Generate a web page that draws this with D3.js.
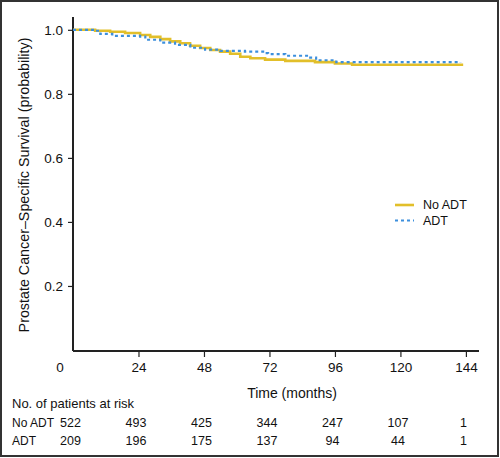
<!DOCTYPE html>
<html><head><meta charset="utf-8">
<script src="https://cdn.jsdelivr.net/npm/d3@7/dist/d3.min.js"></script>
<style>body{margin:0;background:#fff}svg{display:block;font-family:"Liberation Sans",Arial,Helvetica,sans-serif}</style>
</head><body>
<script>
// Kaplan-Meier step data (months, survival probability)
const noAdtTimes = [0, 8.1, 13.6, 19.1, 24.6, 28.3, 32, 35.6, 39.3, 42.9, 46.6, 50.3, 53.9, 57.6, 61.3, 65, 70.4, 77.8, 88.7, 96, 102.3, 143];
const noAdtSurv  = [1.0, 0.997, 0.994, 0.99, 0.984, 0.978, 0.971, 0.964, 0.958, 0.95, 0.943, 0.937, 0.932, 0.925, 0.916, 0.911, 0.907, 0.903, 0.899, 0.895, 0.891, 0.891];
const adtTimes = [0, 8.1, 10, 14.4, 24.6, 26.5, 32, 37.4, 43, 48.4, 54, 63, 70.4, 71.5, 77.8, 86.2, 89.1, 96.5, 142];
const adtSurv  = [1.0, 0.997, 0.987, 0.981, 0.979, 0.969, 0.96, 0.953, 0.944, 0.938, 0.934, 0.932, 0.927, 0.924, 0.919, 0.913, 0.905, 0.899, 0.898];
const xTicks = [24, 48, 72, 96, 120, 144];
const yTicks = [0.2, 0.4, 0.6, 0.8, 1.0];
const riskTimes = [0, 24, 48, 72, 96, 120, 144];
const riskNoAdt = [522, 493, 425, 344, 247, 107, 1];
const riskAdt = [209, 196, 175, 137, 94, 44, 1];
const seriesNames = ["No ADT", "ADT"];

const W = 500, H = 458;
const svg = d3.select("body").append("svg").attr("width", W).attr("height", H);
svg.append("rect").attr("x", 1).attr("y", 1).attr("width", 497).attr("height", 455)
  .attr("fill", "none").attr("stroke", "#333").attr("stroke-width", 2);

const x = d3.scaleLinear().domain([0, 148.8]).range([73, 479]);
const y = d3.scaleLinear().domain([0, 1.04]).range([350, 17]);

const yellow = "#E2BF2A", blue = "#3C8FDD";

// axes
const gx = svg.append("g").attr("transform", "translate(0,351)")
  .call(d3.axisBottom(x).tickValues(xTicks).tickFormat(d3.format("d")).tickSize(6).tickPadding(5));
const gy = svg.append("g").attr("transform", "translate(73,0)")
  .call(d3.axisLeft(y).tickValues(yTicks).tickFormat(d3.format(".1f")).tickSize(5).tickPadding(5));
[gx, gy].forEach(g => {
  g.select(".domain").attr("stroke", "#222").attr("stroke-width", 2);
  g.selectAll(".tick line").attr("stroke", "#222").attr("stroke-width", 1.2);
  g.selectAll(".tick text").attr("fill", "#111").style("font-size", "13.5px").style("font-family", '"Liberation Sans",Arial,sans-serif');
});
gx.select(".domain").attr("d", `M${x(0)},0H${x(148.8)}`);
gy.select(".domain").attr("d", `M0,${y(1.04)}V${y(0)+1}`);
// "0" label offset to the left of origin
svg.append("text").attr("x", x(0) - 13).attr("y", 351 + 11).attr("dy", "0.71em")
  .attr("text-anchor", "middle").style("font-size", "13.5px").attr("fill", "#111").text("0");

// axis titles
svg.append("text").attr("transform", `translate(29,185) rotate(-90)`).attr("text-anchor", "middle")
  .style("font-size", "14.3px").attr("fill", "#111").text("Prostate Cancer\u2013Specific Survival (probability)");
svg.append("text").attr("x", 292).attr("y", 398).attr("text-anchor", "middle")
  .style("font-size", "14px").attr("fill", "#111").text("Time (months)");

// curves
const line = d3.line().x(d => x(d[0])).y(d => y(d[1])).curve(d3.curveStepAfter);
svg.append("path").datum(noAdtTimes.map((t, i) => [t, noAdtSurv[i]]))
  .attr("d", line).attr("fill", "none").attr("stroke", yellow).attr("stroke-width", 2.6);
svg.append("path").datum(adtTimes.map((t, i) => [t, adtSurv[i]]))
  .attr("d", line).attr("fill", "none").attr("stroke", blue).attr("stroke-width", 2.2)
  .attr("stroke-dasharray", "3,3");

// legend
const lg = svg.append("g");
[[yellow, null, 2.6], [blue, "3,3", 2.2]].forEach((s, i) => {
  const yy = 205 + i * 15.5;
  lg.append("line").attr("x1", 395).attr("x2", 414).attr("y1", yy).attr("y2", yy)
    .attr("stroke", s[0]).attr("stroke-width", s[2]).attr("stroke-dasharray", s[1]);
  lg.append("text").attr("x", 423).attr("y", yy).attr("dy", "0.35em")
    .style("font-size", "12.5px").attr("fill", "#111").text(seriesNames[i]);
});

// risk table
svg.append("text").attr("x", 12).attr("y", 403).attr("dy", "0.35em").style("font-size", "13px").attr("fill", "#111")
  .text("No. of patients at risk");
[[riskNoAdt, 423], [riskAdt, 441]].forEach((r, i) => {
  svg.append("text").attr("x", 12).attr("y", r[1]).attr("dy", "0.35em").style("font-size", "12px").attr("fill", "#111")
    .text(seriesNames[i]);
  svg.selectAll(null).data(riskTimes).enter().append("text")
    .attr("x", (d) => x(d) - 2.5).attr("y", r[1]).attr("dy", "0.35em").attr("text-anchor", "middle")
    .style("font-size", "12.5px").attr("fill", "#111").text((d, j) => r[0][j]);
});
</script>
</body></html>
